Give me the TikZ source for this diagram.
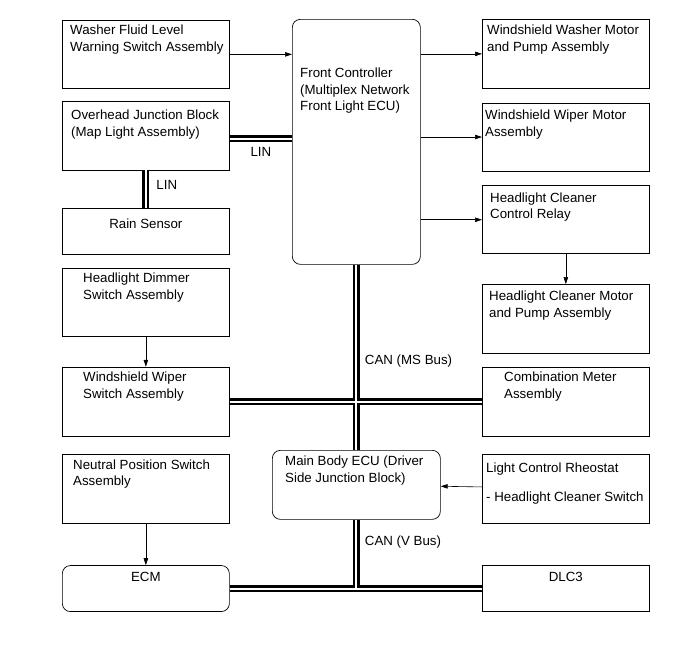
\documentclass[tikz,border=0pt]{standalone}
\usepackage{fontspec}
\setmainfont{Liberation Sans}
\usetikzlibrary{arrows.meta, positioning}

\begin{document}
\begin{tikzpicture}[
   x=1pt, y=-1pt,
   font=\fontsize{13.3}{16.5}\selectfont,
   box/.style={draw, line width=0.7pt, inner sep=0pt, minimum width=167pt},
   rbox/.style={box, rounded corners=8pt},
   txt/.style={inner sep=0pt, align=left},
   arr/.style={-{Triangle[length=7pt, width=4.5pt]}, line width=0.6pt},
   bus/.style={double, double distance=2pt, line width=2.5pt}]

  \useasboundingbox (0,0) rectangle (689,659);

  % left column
  \node[box, minimum height=68pt, anchor=north west] (wfl) at (62,20) {};
  \node[box, minimum height=69pt, below=12pt of wfl] (ojb) {};
  \node[box, minimum height=46pt, below=38pt of ojb] (rain) {};
  \node[box, minimum height=68pt, below=13pt of rain] (hds) {};
  \node[box, minimum height=69pt, below=30pt of hds] (wws) {};
  \node[box, minimum height=69pt, below=17pt of wws] (nps) {};
  \node[rbox, minimum height=46pt, below=42pt of nps] (ecm) {};

  % middle
  \node[rbox, minimum width=128pt, minimum height=245pt, anchor=north west] (fc) at (292,19) {};
  \node[rbox, minimum width=168pt, minimum height=69pt, anchor=north west] (mb) at (272,450) {};

  % right column
  \node[box, minimum height=69pt, anchor=north west] (wwm) at (482,19) {};
  \node[box, minimum height=68pt, below=14pt of wwm] (wwim) {};
  \node[box, minimum height=68pt, below=14pt of wwim] (relay) {};
  \node[box, minimum height=69pt, below=30pt of relay] (hcm) {};
  \node[box, minimum height=69pt, below=13pt of hcm] (cm) {};
  \node[box, minimum height=69pt, below=17pt of cm] (rheo) {};
  \node[box, minimum height=46pt, below=42pt of rheo] (dlc) {};

  % texts
  \node[txt, below right=5pt and 8pt of wfl.north west] (wfl-t) {Washer Fluid Level\\Warning Switch Assembly};
  \node[txt, below right=9pt and 9pt of ojb.north west] (ojb-t) {Overhead Junction Block\\(Map Light Assembly)};
  \node[txt, below=10pt of rain.north] (rain-t) {Rain Sensor};
  \node[txt, below right=5pt and 21pt of hds.north west] (hds-t) {Headlight Dimmer\\Switch Assembly};
  \node[txt, below right=5pt and 21pt of wws.north west] (wws-t) {Windshield Wiper\\Switch Assembly};
  \node[txt, below right=6pt and 11pt of nps.north west] (nps-t) {Neutral Position Switch\\Assembly};
  \node[txt, below=7pt of ecm.north] (ecm-t) {ECM};
  \node[txt, below right=49pt and 8pt of fc.north west] (fc-t) {Front Controller\\(Multiplex Network\\Front Light ECU)};
  \node[txt, below right=6pt and 13pt of mb.north west] (mb-t) {Main Body ECU (Driver\\Side Junction Block)};
  \node[txt, below right=6pt and 5pt of wwm.north west] (wwm-t) {Windshield Washer Motor\\and Pump Assembly};
  \node[txt, below right=7pt and 3pt of wwim.north west] (wwim-t) {Windshield Wiper Motor\\Assembly};
  \node[txt, below right=7pt and 8pt of relay.north west] (relay-t) {Headlight Cleaner\\Control Relay};
  \node[txt, below right=7pt and 7pt of hcm.north west] (hcm-t) {Headlight Cleaner Motor\\and Pump Assembly};
  \node[txt, below right=5pt and 22pt of cm.north west] (cm-t) {Combination Meter\\Assembly};
  \node[txt, below right=9pt and 4pt of rheo.north west] (rheo-t) {Light Control Rheostat\\[12.5pt]- Headlight Cleaner Switch};
  \node[txt, below=7pt of dlc.north] (dlc-t) {DLC3};

  % signal lines
  \draw[arr] (wfl.east) -- (wfl.east -| fc.west);
  \draw[arr] (wwm.west -| fc.east) -- (wwm.west);
  \draw[arr] (wwim.west -| fc.east) -- (wwim.west);
  \draw[arr] (relay.west -| fc.east) -- (relay.west);
  \draw[arr] (relay) -- (hcm);
  \draw[arr] (hds) -- (wws);
  \draw[arr] (nps) -- (ecm);
  \draw[arr] (rheo) -- (mb);

  % buses
  \draw[bus] ([yshift=-3pt]ojb.east) -- node[below=4pt] (lin-h) {LIN} ([yshift=-3pt]ojb.east -| fc.west);
  \draw[bus] (ojb) -- node[pos=0.37, right=6pt] (lin-v) {LIN} (rain);
  \draw[bus] (fc) -- node[pos=0.52, right=4pt] (can-ms) {CAN (MS Bus)} (mb)
             (wws) -- (cm);
  \draw[bus] (ecm) -- (dlc)
             (mb) -- node[pos=0.32, right=4pt] (can-v) {CAN (V Bus)} (mb |- ecm);
\end{tikzpicture}
\end{document}
